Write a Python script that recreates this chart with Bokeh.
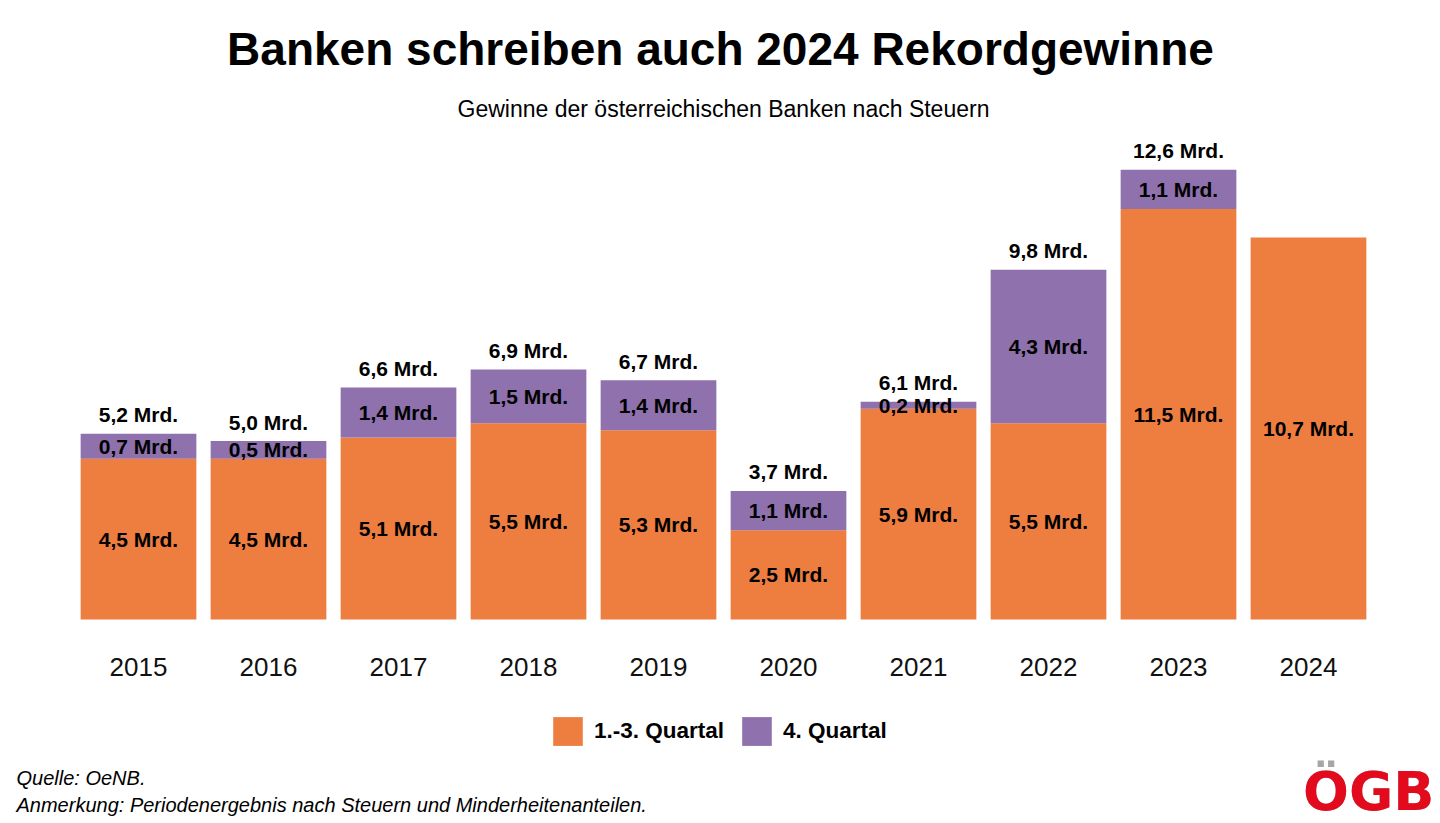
from bokeh.plotting import figure
from bokeh.models import ColumnDataSource, Range1d, Label, Legend, LegendItem
from bokeh.core.properties import value
from bokeh.embed import file_html
from bokeh.resources import INLINE

# ---- data ----
years = [2015, 2016, 2017, 2018, 2019, 2020, 2021, 2022, 2023, 2024]
q13 = [4.5, 4.5, 5.1, 5.5, 5.3, 2.5, 5.9, 5.5, 11.5, 10.7]
q4_years = [2015, 2016, 2017, 2018, 2019, 2020, 2021, 2022, 2023]
q4 = [0.7, 0.5, 1.4, 1.5, 1.4, 1.1, 0.2, 4.3, 1.1]
totals = [5.2, 5.0, 6.6, 6.9, 6.7, 3.7, 6.1, 9.8, 12.6]

ORANGE = "#EE7D40"
PURPLE = "#8E71AD"
FONT = "Liberation Sans"

def fmt(v):
    return f"{v:.1f}".replace(".", ",") + " Mrd."

W, H = 1440, 823
PX_PER_UNIT = 35.7
BASE_Y = 619      # canvas y of zero line
CAT_PX = 130
FIRST_CENTER = 138

x0 = years[0] - FIRST_CENTER / CAT_PX
p = figure(width=W, height=H, output_backend="svg", toolbar_location=None,
           x_axis_location=None, y_axis_location=None,
           x_range=Range1d(x0, x0 + W / CAT_PX),
           y_range=Range1d(-(H - BASE_Y) / PX_PER_UNIT, BASE_Y / PX_PER_UNIT),
           min_border=0)
p.min_border_left = p.min_border_right = p.min_border_top = p.min_border_bottom = 0
p.outline_line_color = None
p.grid.visible = False
p.background_fill_color = "white"
p.border_fill_color = "white"

q4_base = q13[:len(q4)]
src1 = ColumnDataSource(dict(x=years, top=q13, mid=[v / 2 for v in q13],
                             lab=[fmt(v) for v in q13]))
src2 = ColumnDataSource(dict(x=q4_years, bottom=q4_base,
                             top=[b + v for b, v in zip(q4_base, q4)],
                             mid=[b + v / 2 for b, v in zip(q4_base, q4)],
                             lab=[fmt(v) for v in q4],
                             tlab=[fmt(v) for v in totals]))

r1 = p.vbar(x="x", width=0.89, bottom=0, top="top", source=src1,
            fill_color=ORANGE, line_color=None)
r2 = p.vbar(x="x", width=0.89, bottom="bottom", top="top", source=src2,
            fill_color=PURPLE, line_color=None)

lab_kw = dict(text_font=value(FONT), text_font_size="21px", text_font_style="bold",
              text_color="black", text_align="center", text_baseline="middle")
p.text(x="x", y="mid", text="lab", source=src1, **lab_kw)
p.text(x="x", y="mid", text="lab", source=src2, **lab_kw)
p.text(x="x", y="top", text="tlab", source=src2, y_offset=-19, **lab_kw)

# year labels
ysrc = ColumnDataSource(dict(x=years, y=[0] * len(years), t=[str(y) for y in years]))
p.text(x="x", y="y", text="t", source=ysrc, y_offset=47,
       text_font=value(FONT), text_font_size="26px", text_color="#111111",
       text_align="center", text_baseline="middle")

# title & subtitle
p.add_layout(Label(x=720, y=H - 48, x_units="screen", y_units="screen",
                   text="Banken schreiben auch 2024 Rekordgewinne",
                   text_font=FONT, text_font_size="46px", text_font_style="bold",
                   text_color="black", text_align="center", text_baseline="middle"))
p.add_layout(Label(x=723, y=H - 108, x_units="screen", y_units="screen",
                   text="Gewinne der österreichischen Banken nach Steuern",
                   text_font=FONT, text_font_size="23px",
                   text_color="black", text_align="center", text_baseline="middle"))

# legend (area legend glyphs are inset by 10% on each side)
legend = Legend(items=[LegendItem(label="1.-3. Quartal", renderers=[r1]),
                       LegendItem(label="4. Quartal", renderers=[r2])],
                orientation="horizontal", location=(549, 74),
                glyph_width=37, glyph_height=36, label_height=36,
                label_standoff=8, spacing=14, padding=0, margin=0,
                border_line_color=None, background_fill_alpha=0,
                label_text_font=FONT, label_text_font_size="22.5px",
                label_text_font_style="bold", label_text_color="black")
p.add_layout(legend, "center")

# footnotes
for txt, yy in [("Quelle: OeNB.", 46),
                ("Anmerkung: Periodenergebnis nach Steuern und Minderheitenanteilen.", 19)]:
    p.add_layout(Label(x=16, y=yy, x_units="screen", y_units="screen", text=txt,
                       text_font=FONT, text_font_size="20px", text_font_style="italic",
                       text_color="black", text_align="left", text_baseline="middle"))

# logo
for txt, col in [("ÖGB", "#A6A6A6"), ("OGB", "#E30A1E")]:
    p.add_layout(Label(x=1434, y=1, x_units="screen", y_units="screen", text=txt,
                       text_font="DejaVu Sans", text_font_size="54px", text_font_style="bold",
                       text_color=col, text_align="right", text_baseline="bottom"))

open("out.html", "w").write(file_html(p, INLINE))
